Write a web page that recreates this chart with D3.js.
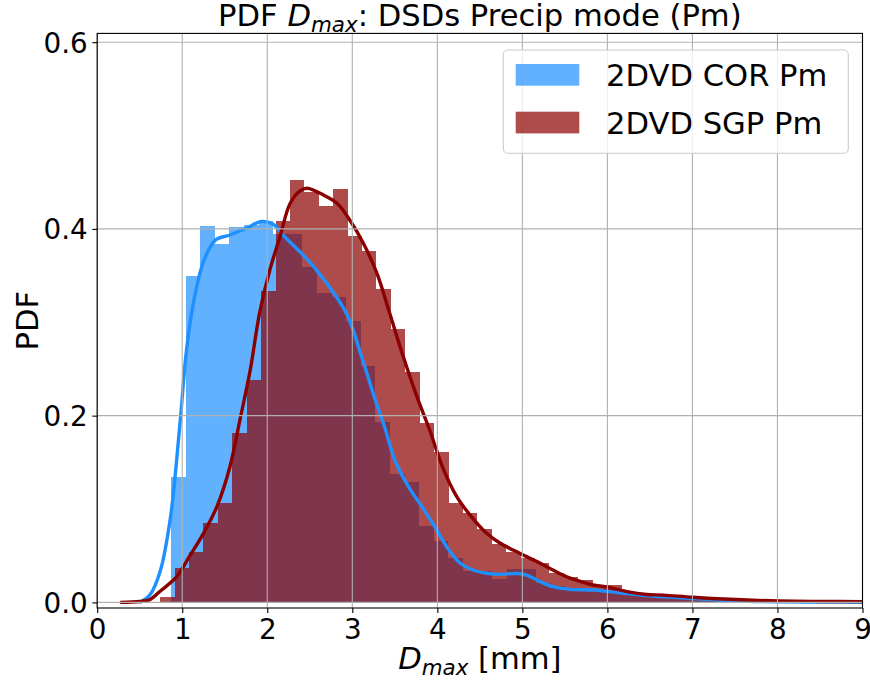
<!DOCTYPE html>
<html>
<head>
<meta charset="utf-8">
<script src="https://cdn.jsdelivr.net/npm/d3@7"></script>
<style>
  html, body { margin: 0; padding: 0; background: #fff; }
  svg { display: block; font-family: "DejaVu Sans", sans-serif; }
</style>
</head>
<body>
<svg id="chart" width="870" height="680"></svg>
<script>
// ---------------- data ----------------
const xTicks = [0, 1, 2, 3, 4, 5, 6, 7, 8, 9];
const yTicks = [0.0, 0.2, 0.4, 0.6];

const seriesNames = ["2DVD COR Pm", "2DVD SGP Pm"];

// COR histogram (density), uniform bins
const corBinStart = 0.867;
const corBinWidth = 0.1718;
const corHist = [0.134, 0.350, 0.403, 0.384, 0.402, 0.404, 0.409, 0.395, 0.395, 0.359,
                 0.331, 0.327, 0.301, 0.2535, 0.193, 0.137, 0.129, 0.082, 0.066, 0.048,
                 0.034, 0.034, 0.025, 0.0357, 0.0357, 0.0205, 0.018, 0.015, 0.0145, 0.0145,
                 0.0125, 0.009, 0.007, 0.006, 0.005, 0.0045, 0.004, 0.003, 0.0025, 0.002,
                 0.0015, 0.001];

// SGP histogram (density), uniform bins
const sgpBinStart = 0.7412;
const sgpBinWidth = 0.16953;
const sgpHist = [0.006, 0.037, 0.054, 0.085, 0.106, 0.181, 0.238, 0.334, 0.408, 0.452,
                 0.440, 0.4245, 0.4424, 0.3927, 0.3763, 0.3357, 0.2925, 0.2471, 0.1918, 0.1614,
                 0.1061, 0.0954, 0.0783, 0.0625, 0.0543, 0.0472, 0.0419, 0.0312, 0.0275, 0.024,
                 0.0186, 0.0186, 0.0105, 0.009, 0.0075, 0.0065, 0.006, 0.005, 0.0045, 0.004,
                 0.003, 0.0025, 0.002, 0.002, 0.0015, 0.0015, 0.001, 0.001, 0.001];

// KDE curves
const corKdeX = [0.50, 0.62, 0.74, 0.86, 0.97, 1.05, 1.13, 1.25, 1.39, 1.56, 1.76, 1.93, 2.07, 2.19,
                 2.39, 2.57, 2.80, 2.95, 3.11, 3.27, 3.39, 3.50, 3.66, 3.82, 3.97, 4.13, 4.27, 4.42,
                 4.58, 4.74, 4.93, 5.05, 5.21, 5.36, 5.56, 5.83, 5.99, 6.15, 6.38, 6.62, 6.96, 7.32,
                 7.64, 8.0, 8.5, 9.0];
const corKdeY = [0.000, 0.008, 0.033, 0.090, 0.188, 0.270, 0.320, 0.365, 0.388, 0.3935, 0.401, 0.408, 0.405, 0.393,
                 0.375, 0.357, 0.329, 0.306, 0.263, 0.217, 0.185, 0.1525, 0.124, 0.1025, 0.081, 0.057, 0.0419, 0.0347,
                 0.0312, 0.030, 0.031, 0.0293, 0.0222, 0.0168, 0.014, 0.0133, 0.0118, 0.0104, 0.0079, 0.0063, 0.0044, 0.0026,
                 0.0012, 0.0006, 0.0004, 0.0002];

const sgpKdeX = [0.27, 0.50, 0.62, 0.74, 0.93, 1.09, 1.25, 1.41, 1.56, 1.68, 1.80, 1.91, 2.03, 2.15,
                 2.27, 2.39, 2.47, 2.66, 2.82, 2.97, 3.13, 3.29, 3.44, 3.60, 3.76, 3.91, 4.07, 4.23,
                 4.39, 4.58, 4.74, 4.89, 5.05, 5.21, 5.36, 5.52, 5.68, 5.83, 5.99, 6.23, 6.46, 6.66,
                 7.0, 7.44, 8.03, 8.5, 9.0];
const sgpKdeY = [0.000, 0.001, 0.003, 0.012, 0.027, 0.050, 0.074, 0.103, 0.145, 0.196, 0.249, 0.310, 0.356, 0.392,
                 0.4275, 0.441, 0.4435, 0.4363, 0.4275, 0.4096, 0.3846, 0.3525, 0.3096, 0.263, 0.2203, 0.1846, 0.143, 0.113,
                 0.093, 0.074, 0.0633, 0.0561, 0.049, 0.0419, 0.0347, 0.0275, 0.0225, 0.0186, 0.0165, 0.0115, 0.0085, 0.0078,
                 0.0055, 0.0033, 0.0015, 0.0010, 0.0008];

// ---------------- layout ----------------
const svg = d3.select("#chart");
const W = 870, H = 680;
const plot = { left: 97.2, right: 862.5, top: 33.4, bottom: 608 };

const x = d3.scaleLinear().domain([0, 9]).range([plot.left, plot.right]);
const y = d3.scaleLinear().domain([-0.006, 0.6094]).range([plot.bottom, plot.top]);

const corColor = "#1e90ff";   // dodgerblue
const sgpColor = "#8b0000";   // darkred
const barAlpha = 0.7;

svg.append("rect").attr("width", W).attr("height", H).attr("fill", "#fff");

svg.append("defs").append("clipPath").attr("id", "clip")
  .append("rect")
  .attr("x", plot.left).attr("y", plot.top)
  .attr("width", plot.right - plot.left).attr("height", plot.bottom - plot.top);

const gPlot = svg.append("g").attr("clip-path", "url(#clip)");

// ---------------- bars ----------------
function drawHist(values, start, width, color) {
  const bins = values.map((v, i) => ({ x0: start + i * width, x1: start + (i + 1) * width, v }));
  gPlot.append("g").selectAll("rect").data(bins).join("rect")
    .attr("x", d => Math.round(x(d.x0)))
    .attr("width", d => Math.round(x(d.x1)) - Math.round(x(d.x0)))
    .attr("y", d => y(d.v))
    .attr("height", d => y(0) - y(d.v))
    .attr("fill", color)
    .attr("fill-opacity", barAlpha)
    .attr("shape-rendering", "crispEdges");
}
drawHist(corHist, corBinStart, corBinWidth, corColor);
drawHist(sgpHist, sgpBinStart, sgpBinWidth, sgpColor);

// ---------------- grid ----------------
const grid = svg.append("g").attr("stroke", "#b0b0b0").attr("stroke-width", 1.1);
grid.selectAll("line.vx").data(xTicks).join("line")
  .attr("x1", d => x(d)).attr("x2", d => x(d))
  .attr("y1", plot.top).attr("y2", plot.bottom);
grid.selectAll("line.hy").data(yTicks).join("line")
  .attr("x1", plot.left).attr("x2", plot.right)
  .attr("y1", d => y(d)).attr("y2", d => y(d));

// ---------------- KDE lines ----------------
const line = d3.line().x(d => x(d[0])).y(d => y(d[1])).curve(d3.curveCatmullRom.alpha(0.5));
gPlot.append("path")
  .datum(corKdeX.map((v, i) => [v, corKdeY[i]]))
  .attr("d", line).attr("fill", "none")
  .attr("stroke", corColor).attr("stroke-width", 3.4).attr("stroke-linejoin", "round");
gPlot.append("path")
  .datum(sgpKdeX.map((v, i) => [v, sgpKdeY[i]]))
  .attr("d", line).attr("fill", "none")
  .attr("stroke", sgpColor).attr("stroke-width", 3.4).attr("stroke-linejoin", "round");

// ---------------- axes ----------------
const tickFont = 27.8;
const xAxis = d3.axisBottom(x).tickValues(xTicks).tickFormat(d3.format("d")).tickSize(4.9).tickPadding(4.5);
const yAxis = d3.axisLeft(y).tickValues(yTicks).tickFormat(d3.format(".1f")).tickSize(4.9).tickPadding(4.5);

const gx = svg.append("g").attr("transform", `translate(0,${plot.bottom})`).call(xAxis);
const gy = svg.append("g").attr("transform", `translate(${plot.left},0)`).call(yAxis);
[gx, gy].forEach(g => {
  g.select(".domain").remove();
  g.selectAll(".tick line").attr("stroke", "#000").attr("stroke-width", 1.1);
  g.selectAll(".tick text").attr("fill", "#000")
    .style("font-family", "DejaVu Sans").style("font-size", tickFont + "px");
});
gy.selectAll(".tick text").attr("dy", "0.36em");
gx.selectAll(".tick text").attr("dy", "0.76em");

// frame (spines)
svg.append("rect")
  .attr("x", plot.left).attr("y", plot.top)
  .attr("width", plot.right - plot.left).attr("height", plot.bottom - plot.top)
  .attr("fill", "none").attr("stroke", "#000").attr("stroke-width", 1.1);

// ---------------- labels ----------------
const labelFont = 30.6;
const cx = (plot.left + plot.right) / 2;

const title = svg.append("text")
  .attr("x", cx).attr("y", 26).attr("text-anchor", "middle")
  .style("font-size", labelFont + "px").attr("fill", "#000");
title.append("tspan").text("PDF ");
title.append("tspan").style("font-style", "italic").text("D");
title.append("tspan").style("font-style", "italic").style("font-size", (labelFont * 0.7) + "px")
  .attr("dy", "0.3em").text("max");
title.append("tspan").attr("dy", "-0.21em").text(": DSDs Precip mode (Pm)");

const xl = svg.append("text")
  .attr("x", cx).attr("y", 669).attr("text-anchor", "middle")
  .style("font-size", labelFont + "px").attr("fill", "#000");
xl.append("tspan").style("font-style", "italic").text("D");
xl.append("tspan").style("font-style", "italic").style("font-size", (labelFont * 0.7) + "px")
  .attr("dy", "0.3em").text("max");
xl.append("tspan").attr("dy", "-0.21em").text(" [mm]");

svg.append("text")
  .attr("transform", `translate(38,${(plot.top + plot.bottom) / 2}) rotate(-90)`)
  .attr("text-anchor", "middle")
  .style("font-size", labelFont + "px").attr("fill", "#000")
  .text("PDF");

// ---------------- legend ----------------
const lg = svg.append("g");
lg.append("rect")
  .attr("x", 503.3).attr("y", 50).attr("width", 345).attr("height", 103.3)
  .attr("rx", 4.5).attr("ry", 4.5)
  .attr("fill", "#fff").attr("fill-opacity", 0.8)
  .attr("stroke", "#cccccc").attr("stroke-width", 1.1);
const legendItems = [
  { name: seriesNames[0], color: corColor },
  { name: seriesNames[1], color: sgpColor }
];
legendItems.forEach((it, i) => {
  const top = 64 + i * 47.7;
  lg.append("rect")
    .attr("x", 515.7).attr("y", top).attr("width", 63.6).attr("height", 21.7)
    .attr("fill", it.color).attr("fill-opacity", barAlpha);
  lg.append("text")
    .attr("x", 606).attr("y", top + 22.3)
    .style("font-size", labelFont + "px").attr("fill", "#000")
    .text(it.name);
});
</script>
</body>
</html>
